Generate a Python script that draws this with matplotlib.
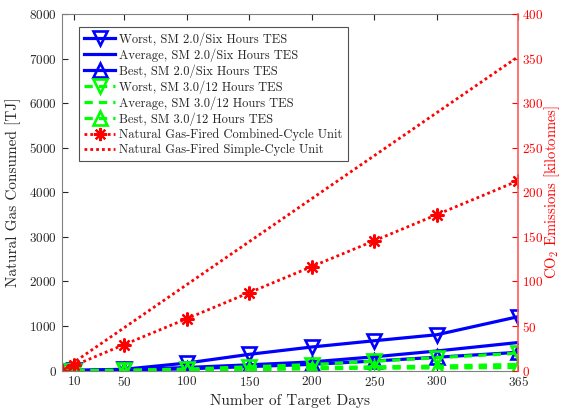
import matplotlib
matplotlib.use("Agg")
import matplotlib.pyplot as plt

plt.rcParams["font.family"] = ["cmr10", "DejaVu Serif"]
plt.rcParams["mathtext.fontset"] = "cm"
plt.rcParams["axes.formatter.use_mathtext"] = True

# Target-day counts
days = [0, 10, 50, 100, 150, 200, 250, 300, 365]
day_ticks = [10, 50, 100, 150, 200, 250, 300, 365]

# Natural gas consumed [TJ]
sm2_worst = [0, 5, 30, 170, 365, 530, 670, 805, 1210]
sm2_avg = [0, 2, 15, 70, 130, 195, 310, 440, 630]
sm2_best = [0, 1, 8, 40, 90, 140, 215, 300, 410]
sm3_worst = [0, 1, 8, 35, 85, 135, 210, 290, 390]
sm3_avg = [0, 0, 3, 15, 40, 65, 85, 100, 140]
sm3_best = [0, 0, 1, 5, 20, 40, 55, 60, 70]
ngcc = [0, 117, 585, 1165, 1750, 2335, 2915, 3500, 4260]
ngsc = [0, 193, 965, 1930, 2895, 3860, 4825, 5790, 7045]

blue = "#0000ff"
green = "#00ff00"
red = "#ff0000"
axis_red = "#ff5a5a"
axis_gray = "#808080"
text_dark = "#262626"

fig = plt.figure(figsize=(5.62, 4.15), dpi=100)
ax = fig.add_axes([0.110, 0.107, 0.812, 0.859])

lw = 2.3
ms = 10
mew = 1.9
ax.plot(days, sm2_worst, color=blue, lw=lw, marker="v", ms=ms, mew=mew,
        mfc="none", label="Worst, SM 2.0/Six Hours TES")
ax.plot(days, sm2_avg, color=blue, lw=lw, label="Average, SM 2.0/Six Hours TES")
ax.plot(days, sm2_best, color=blue, lw=lw, marker="^", ms=ms, mew=mew,
        mfc="none", label="Best, SM 2.0/Six Hours TES")
dash = (0, (2.6, 1.9))
ax.plot(days, sm3_worst, color=green, lw=lw, ls=dash, marker="v", ms=ms, mew=mew,
        mfc="none", label="Worst, SM 3.0/12 Hours TES")
ax.plot(days, sm3_avg, color=green, lw=lw, ls=dash, label="Average, SM 3.0/12 Hours TES")
ax.plot(days, sm3_best, color=green, lw=lw, ls=dash, marker="^", ms=ms, mew=mew,
        mfc="none", label="Best, SM 3.0/12 Hours TES")
ax.plot(days, ngcc, color=red, lw=2.0, ls=(0, (1, 1.1)), marker=(8, 2, 0), ms=10,
        mew=1.6, label="Natural Gas-Fired Combined-Cycle Unit")
ax.plot(days, ngsc, color=red, lw=2.0, ls=(0, (1, 1.1)),
        label="Natural Gas-Fired Simple-Cycle Unit")

ax.set_xlim(0, 365)
ax.set_ylim(0, 8000)
ax.set_xticks(day_ticks)
ax.set_yticks(range(0, 8001, 1000))
ax.set_xlabel("Number of Target Days", fontsize=11, color=text_dark, labelpad=3)
ax.set_ylabel("Natural Gas Consumed [TJ]", fontsize=11, color=text_dark, labelpad=6)
ax.tick_params(axis="both", direction="in", labelsize=9.5, colors=text_dark,
               length=4, width=0.8, top=True, right=False)
for side in ("left", "bottom", "top"):
    ax.spines[side].set_color(axis_gray)
ax.spines["right"].set_visible(False)

# CO2 emissions scale on the right
ax2 = ax.twinx()
ax2.set_ylim(0, 400)
ax2.set_yticks(range(0, 401, 50))
ax2.tick_params(axis="y", direction="in", labelsize=9.5, colors=red,
                length=4, width=0.8, pad=2.5)
for side in ("left", "bottom", "top"):
    ax2.spines[side].set_visible(False)
ax2.spines["right"].set_color(axis_red)
ax2.spines["right"].set_linewidth(1.2)
ax2.set_ylabel("CO$_2$ Emissions [kilotonnes]", fontsize=10.5, color=red, labelpad=0)

handles, labels = ax.get_legend_handles_labels()
leg = ax2.legend(handles, labels, loc="upper left", bbox_to_anchor=(0.038, 0.963),
                 borderaxespad=0, fontsize=9, frameon=True, fancybox=False,
                 handlelength=2.5, handletextpad=0.3, labelspacing=0.2,
                 borderpad=0.4, markerscale=0.95)
leg.get_frame().set_edgecolor(text_dark)
leg.get_frame().set_linewidth(0.8)
for t in leg.get_texts():
    t.set_color(text_dark)

fig.savefig("out.png", dpi=100)
